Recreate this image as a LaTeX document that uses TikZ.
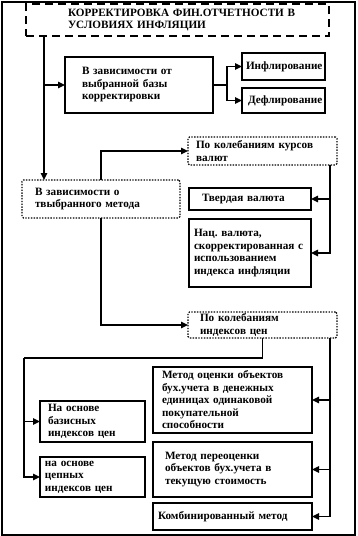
\documentclass[tikz,border=0pt]{standalone}
\usepackage{fontspec}
\setmainfont{Liberation Serif}
\usetikzlibrary{arrows.meta}
\frenchspacing
\begin{document}
\begin{tikzpicture}[x=1pt,y=-1pt,
  txt/.style={font=\fontsize{11.2}{12.5}\selectfont\bfseries},
  boxbase/.style={txt, anchor=north west, align=left, inner xsep=0pt, inner ysep=0pt, outer sep=0pt},
  solidbox/.style={boxbase, draw, line width=1.3pt},
  dotbox/.style={boxbase, draw, line width=1.3pt, dash pattern=on 1.4pt off 1.4pt, rounded corners=1.5pt},
  dashbox/.style={boxbase, draw, line width=1.8pt, dash pattern=on 8pt off 5pt},
  arr/.style={line width=1.3pt, -{Triangle[length=7pt,width=6.5pt]}},
  conn/.style={line width=1.3pt}
]
\useasboundingbox (0,0) rectangle (357,536);
\draw[line width=2pt] (2,1.5) rectangle (355,534.5);

% boxes: left, top, W, H, pad
\node[dashbox, minimum width=303pt, minimum height=32pt, text width=219pt] (title) at (26,4)
  {\mbox{КОРРЕКТИРОВКА ФИН.ОТЧЕТНОСТИ В}\\\mbox{УСЛОВИЯХ ИНФЛЯЦИИ}};
\node[solidbox, minimum width=148pt, minimum height=56pt, text width=114pt] (base) at (65,57)
  {\mbox{В зависимости от}\\\mbox{выбранной базы}\\\mbox{корректировки}};
\node[solidbox, minimum width=83pt, minimum height=27pt, text width=75pt] (infl) at (242,53)
  {\mbox{Инфлирование}};
\node[solidbox, minimum width=83pt, minimum height=25pt, text width=71pt] (defl) at (242,88)
  {\mbox{Дефлирование}};
\node[dotbox, minimum width=149pt, minimum height=28pt, text width=133pt] (kurs) at (188,137)
  {\mbox{По колебаниям курсов}\\\mbox{валют}};
\node[dotbox, minimum width=158pt, minimum height=38pt, text width=132pt] (metoda) at (22,180)
  {\mbox{В зависимости о}\\\mbox{твыбранного метода}};
\node[solidbox, minimum width=122pt, minimum height=22pt, text width=96pt] (tverd) at (189,188)
  {\mbox{Твердая валюта}};
\node[solidbox, minimum width=122pt, minimum height=68pt, text width=112pt] (nac) at (189,219)
  {\mbox{Нац. валюта,}\\\mbox{скорректированная с}\\\mbox{использованием}\\\mbox{индекса инфляции}};
\node[dotbox, minimum width=149pt, minimum height=26pt, text width=125pt] (indeks) at (188,312)
  {\mbox{По колебаниям}\\\mbox{индексов цен}};
\node[solidbox, minimum width=105pt, minimum height=41pt, text width=89pt] (baz) at (40,401)
  {\mbox{На основе}\\\mbox{базисных}\\\mbox{индексов цен}};
\node[solidbox, minimum width=105pt, minimum height=40pt, text width=95pt] (cep) at (40,457)
  {\mbox{на основе}\\\mbox{цепных}\\\mbox{индексов цен}};
\node[solidbox, minimum width=159pt, minimum height=66pt, text width=141pt] (ocenki) at (153,367)
  {\mbox{Метод оценки объектов}\\\mbox{бух.учета в денежных}\\\mbox{единицах одинаковой}\\\mbox{покупательной}\\\mbox{способности}};
\node[solidbox, minimum width=159pt, minimum height=55pt, text width=135pt] (pereoc) at (153,442)
  {\mbox{Метод переоценки}\\\mbox{объектов бух.учета в}\\\mbox{текущую стоимость}};
\node[solidbox, minimum width=159pt, minimum height=27pt, text width=149pt] (komb) at (153,503)
  {\mbox{Комбинированный метод}};

% connectors
\coordinate (trunk) at (44,0);
\coordinate (rk) at (330,0);
\coordinate (split) at (24,358);
\draw[arr] (title.south -| trunk) -- (metoda.north -| trunk);
\draw[arr] (trunk |- base.west) -- (base.west);
\draw[arr] (base.east) -- ++(14,0) |- (infl.west);
\draw[arr] (base.east) -- ++(14,0) |- (defl.west);
\draw[arr] (metoda.north) |- (kurs.west);
\draw[arr] (metoda.south) |- (indeks.west);
\draw[arr] (kurs.south -| rk) |- (tverd.east);
\draw[arr] (kurs.south -| rk) |- (nac.east);
\draw[arr] (indeks.south -| rk) |- (ocenki.east);
\draw[arr] (indeks.south -| rk) |- (pereoc.east);
\draw[arr] (indeks.south -| rk) |- (komb.east);
\draw[conn] (indeks.south) |- (split);
\draw[arr] (split) |- (baz.west);
\draw[arr] (split) |- (cep.west);
\end{tikzpicture}
\end{document}
